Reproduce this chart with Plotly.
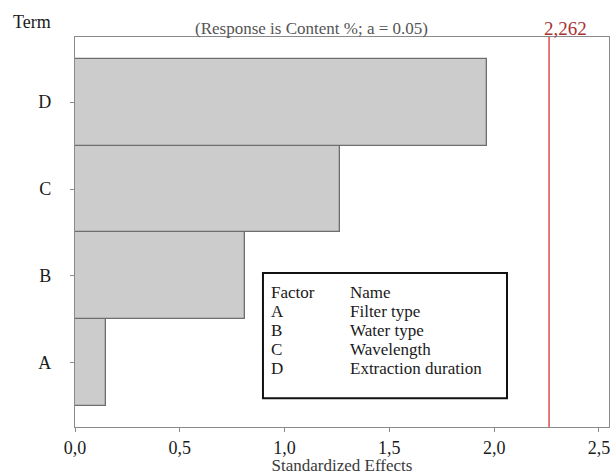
import plotly.graph_objects as go

terms = ["A", "B", "C", "D"]
effects = [0.148, 0.811, 1.264, 1.966]
critical = 2.262
factor_codes = ["A", "B", "C", "D"]
factor_names = ["Filter type", "Water type", "Wavelength", "Extraction duration"]
x_ticks = [0.0, 0.5, 1.0, 1.5, 2.0, 2.5]
x_tick_labels = ["0,0", "0,5", "1,0", "1,5", "2,0", "2,5"]

FONT = "Liberation Serif"
TXT = "#1a1a1a"

fig = go.Figure()
fig.add_trace(go.Bar(
    x=effects, y=terms, orientation="h", width=1.0,
    marker=dict(color="#cccccc", line=dict(color="#6e6e6e", width=1.3)),
    showlegend=False, hoverinfo="x+y"))

fig.add_shape(type="line", xref="x", yref="paper", x0=critical, x1=critical, y0=0, y1=1,
              line=dict(color="#e03030", width=1.3))
fig.add_annotation(x=critical, y=1, xref="x", yref="paper", text="2,262", showarrow=False,
                   xanchor="left", xshift=-7, yanchor="bottom", yshift=-4,
                   font=dict(color="#a83232", size=19, family=FONT))
fig.add_annotation(x=0.442, y=1, xref="paper", yref="paper", text="(Response is Content %; a = 0.05)",
                   showarrow=False, yanchor="bottom", yshift=-3, font=dict(color="#555555", size=17, family=FONT))
fig.add_annotation(x=-0.12, y=1.038, xref="paper", yref="paper", text="Term", showarrow=False,
                   xanchor="left", yanchor="middle", font=dict(color=TXT, size=18, family=FONT))

# legend box
fig.add_shape(type="rect", xref="paper", yref="paper", x0=0.352, x1=0.809, y0=0.074, y1=0.395,
              line=dict(color="#111111", width=2), fillcolor="white")
rows = [("Factor", "Name")] + list(zip(factor_codes, factor_names))
for i, (c, n) in enumerate(rows):
    yy = 0.345 - i * 0.049
    fig.add_annotation(x=0.363, y=yy, xref="paper", yref="paper", text=c, showarrow=False,
                       xanchor="left", yanchor="middle", font=dict(color=TXT, size=17, family=FONT))
    fig.add_annotation(x=0.511, y=yy, xref="paper", yref="paper", text=n, showarrow=False,
                       xanchor="left", yanchor="middle", font=dict(color=TXT, size=17, family=FONT))

fig.update_layout(
    width=613, height=475, margin=dict(l=75, r=4, t=37, b=48),
    plot_bgcolor="white", paper_bgcolor="white", bargap=0,
    font=dict(family=FONT, size=18, color=TXT),
    xaxis=dict(range=[0, 2.548], tickvals=x_ticks, ticktext=x_tick_labels, showgrid=False, zeroline=False,
               automargin=False, tickfont=dict(family=FONT, size=18, color=TXT),
               showline=True, linecolor="#8a8a8a", linewidth=1.3, mirror=True,
               ticks="outside", ticklen=4, tickcolor="#8a8a8a",
               title=dict(text="Standardized Effects", font=dict(family=FONT, size=17, color="#3a3a3a"), standoff=2)),
    yaxis=dict(range=[-0.74, 3.75], showgrid=False, zeroline=False, showline=True, linecolor="#8a8a8a",
               linewidth=1.3, automargin=False, tickfont=dict(family=FONT, size=18, color=TXT),
               mirror=True, ticks="outside", ticklen=4, tickcolor="#8a8a8a", ticklabelstandoff=15),
)

fig.write_html("out.html", config={"displayModeBar": False},
               post_script="document.body.style.margin='0px';document.body.style.overflow='hidden';")
